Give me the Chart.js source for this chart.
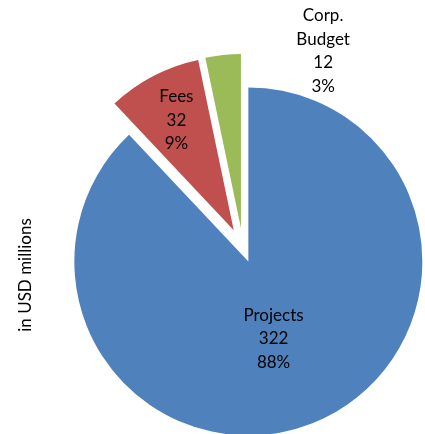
<!DOCTYPE html>
<html><head><meta charset="utf-8">
<script src="https://cdn.jsdelivr.net/npm/chart.js@4"></script>
<style>html,body{margin:0;padding:0;background:#fff;}canvas{display:block;}</style>
</head><body>
<canvas id="c" width="425" height="434"></canvas>
<script>
// ---- data ----
const categories = ['Projects', 'Fees', 'Corp. Budget'];
const values = [322, 32, 12];
const percentLabels = ['88%', '9%', '3%'];
const axisTitle = 'in USD millions';

// ---- styles ----
const colors = ['#4F81BD', '#C0504D', '#9BBB59'];
const explode = [14.5, 20, 20];               // px each slice is pulled out
const labelPlace = [                          // radial fraction, angle shift (deg)
  { r: 0.468, da: 3.6 },
  { r: 0.713, da: 0 },
  { r: 1.122, da: 30.8 }
];
const FONT = '17px Lato';
const LINE_H = 23.5;

const explodePlugin = {
  id: 'explode',
  afterDatasetsUpdate(chart) {
    const meta = chart.getDatasetMeta(0);
    meta.data.forEach((arc, i) => {
      const mid = (arc.startAngle + arc.endAngle) / 2;
      arc.x += Math.cos(mid) * explode[i];
      arc.y += Math.sin(mid) * explode[i];
    });
  }
};

const labelPlugin = {
  id: 'sliceLabels',
  afterDraw(chart) {
    const ctx = chart.ctx;
    const meta = chart.getDatasetMeta(0);
    ctx.save();
    ctx.font = FONT;
    ctx.fillStyle = '#000';
    ctx.textAlign = 'center';
    ctx.textBaseline = 'middle';
    meta.data.forEach((arc, i) => {
      const p = labelPlace[i];
      const a = (arc.startAngle + arc.endAngle) / 2 + p.da * Math.PI / 180;
      const r = p.r * arc.outerRadius;
      const cx = arc.x + Math.cos(a) * r;
      const cy = arc.y + Math.sin(a) * r;
      const lines = categories[i].split(' ').concat([String(values[i]), percentLabels[i]]);
      const top = cy - (lines.length - 1) * LINE_H / 2;
      lines.forEach((t, k) => ctx.fillText(t, cx, top + k * LINE_H));
    });
    // axis title
    ctx.translate(26, 275);
    ctx.rotate(-Math.PI / 2);
    ctx.fillText(axisTitle, 0, 0);
    ctx.restore();
  }
};

new Chart(document.getElementById('c'), {
  type: 'pie',
  data: {
    labels: categories,
    datasets: [{
      data: values,
      backgroundColor: colors,
      borderWidth: 0,
      radius: 174
    }]
  },
  options: {
    responsive: false,
    animation: false,
    events: [],
    rotation: 0,
    layout: { padding: { left: 61, right: 0, top: 62, bottom: 0 } },
    plugins: { legend: { display: false }, tooltip: { enabled: false } }
  },
  plugins: [explodePlugin, labelPlugin]
});
</script>
</body></html>
